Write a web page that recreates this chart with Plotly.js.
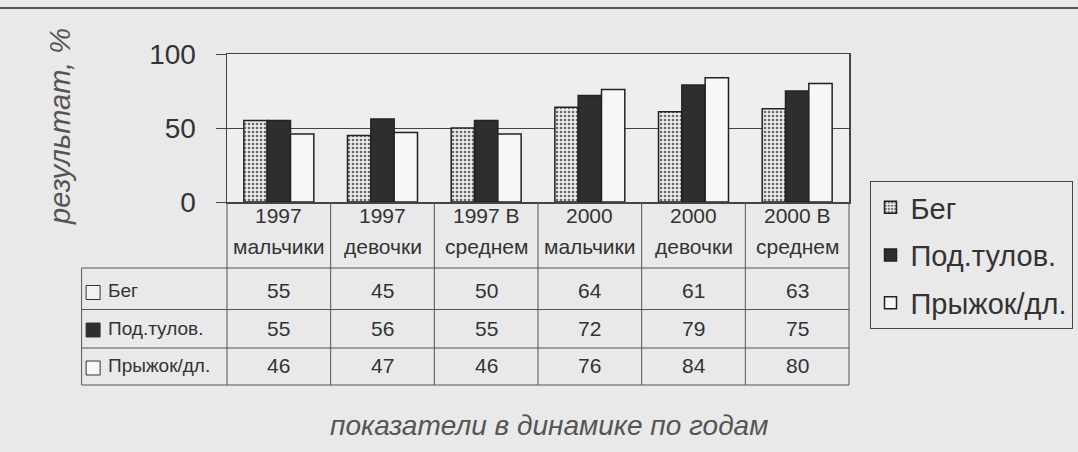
<!DOCTYPE html>
<html>
<head>
<meta charset="utf-8">
<script src="https://cdn.plot.ly/plotly-3.0.1.min.js"></script>
<style>html,body{margin:0;padding:0;background:#e9e9e9;}#chart{width:1078px;height:452px;}</style>
</head>
<body>
<div id="chart"></div>
<script>
// ---- data ----
const catLine1 = ['1997', '1997', '1997 В', '2000', '2000', '2000 В'];
const catLine2 = ['мальчики', 'девочки', 'среднем', 'мальчики', 'девочки', 'среднем'];
const categories = catLine1.map((a, i) => a + ' ' + catLine2[i]);
const seriesNames = ['Бег', 'Под.тулов.', 'Прыжок/дл.'];
const runVals = [55, 45, 50, 64, 61, 63];
const pullVals = [55, 56, 55, 72, 79, 75];
const jumpVals = [46, 47, 46, 76, 84, 80];
const yTicks = [0, 50, 100];
const yTitle = 'результат, %';
const xTitle = 'показатели в динамике по годам';

const seriesVals = [runVals, pullVals, jumpVals];
const FONT = 'Liberation Sans, Arial, sans-serif';
const TXT = '#333';

// ---- traces ----
const traces = [
  {type: 'bar', name: seriesNames[0], x: categories, y: runVals, legendgroup: 'g1',
   marker: {color: '#ececec', line: {color: '#222', width: 1.5},
            pattern: {shape: '.', fgcolor: '#6a6a6a', bgcolor: '#ececec', size: 4, solidity: 0.35}}},
  {type: 'bar', name: seriesNames[1], x: categories, y: pullVals, legendgroup: 'g2',
   marker: {color: '#2e2e2e', line: {color: '#222', width: 1.5}}},
  {type: 'bar', name: seriesNames[2], x: categories, y: jumpVals, legendgroup: 'g3',
   marker: {color: '#f7f7f7', line: {color: '#222', width: 1.5}}}
];

// ---- table geometry (paper coords) ----
const L = 227, R = 849, T = 54, B = 202;
const W = R - L, H = B - T;
const px = p => (p - L) / W;
const py = p => (B - p) / H;
const rowLines = [268, 309.5, 348, 385].map(py);
const labelLeft = px(81.6);
const headerY = [py(215), py(246)];
const rowY = [py(290.5), py(328), py(366)];

const shapes = [];
const lineStyle = {color: '#555', width: 1};
rowLines.forEach(y => {
  shapes.push({type: 'line', xref: 'paper', yref: 'paper',
    x0: labelLeft, x1: 1, y0: y, y1: y, line: lineStyle});
});
for (let i = 0; i <= categories.length; i++) {
  const x = i / categories.length;
  shapes.push({type: 'line', xref: 'paper', yref: 'paper', x0: x, x1: x,
    y0: 0, y1: rowLines[rowLines.length - 1], line: lineStyle});
}
shapes.push({type: 'line', xref: 'paper', yref: 'paper', x0: labelLeft, x1: labelLeft,
  y0: rowLines[0], y1: rowLines[rowLines.length - 1], line: lineStyle});
const iconFill = ['#f2f2f2', '#2e2e2e', '#f7f7f7'];
rowY.forEach((y, k) => {
  shapes.push({type: 'rect', xref: 'paper', yref: 'paper', xsizemode: 'pixel', ysizemode: 'pixel',
    xanchor: labelLeft, yanchor: y, x0: 4.5, x1: 18.5, y0: -9, y1: 5,
    fillcolor: iconFill[k], line: {color: '#333', width: 1}});
});
shapes.push({type: 'line', xref: 'paper', yref: 'paper', x0: px(0), x1: px(1078),
  y0: py(8), y1: py(8), line: {color: '#555', width: 2}});

// ---- annotations ----
const annotations = [];
categories.forEach((c, i) => {
  annotations.push({xref: 'x', yref: 'paper', x: c, y: headerY[0], text: catLine1[i],
    showarrow: false, font: {family: FONT, size: 21, color: TXT}, yanchor: 'middle'});
  annotations.push({xref: 'x', yref: 'paper', x: c, y: headerY[1], text: catLine2[i],
    showarrow: false, font: {family: FONT, size: 21, color: TXT}, yanchor: 'middle'});
  seriesVals.forEach((vals, k) => {
    annotations.push({xref: 'x', yref: 'paper', x: c, y: rowY[k], text: String(vals[i]),
      showarrow: false, font: {family: FONT, size: 21, color: TXT}, yanchor: 'middle'});
  });
});
seriesNames.forEach((n, k) => {
  annotations.push({xref: 'paper', yref: 'paper', x: px(106), y: rowY[k], text: n,
    xanchor: 'left', yanchor: 'middle', showarrow: false,
    font: {family: FONT, size: 19, color: TXT}});
});
annotations.push({xref: 'paper', yref: 'paper', x: px(60), y: py(127), text: '<i>' + yTitle + '</i>',
  textangle: -90, showarrow: false, xanchor: 'center', yanchor: 'middle',
  font: {family: FONT, size: 29, color: '#555'}});
annotations.push({xref: 'paper', yref: 'paper', x: px(548.5), y: py(425), text: '<i>' + xTitle + '</i>',
  showarrow: false, xanchor: 'center', yanchor: 'middle',
  font: {family: FONT, size: 28, color: '#555'}});

const layout = {
  width: 1078, height: 452,
  margin: {l: L, r: 1078 - R, t: T, b: 452 - B, autoexpand: false},
  paper_bgcolor: '#e9e9e9', plot_bgcolor: '#eeeeee',
  barmode: 'group', bargap: 0.325, bargroupgap: 0,
  showlegend: true,
  legend: {x: px(869.5), y: py(181), xanchor: 'left', yanchor: 'top',
    bgcolor: '#e9e9e9', bordercolor: '#444', borderwidth: 1,
    traceorder: 'grouped', tracegroupgap: 7,
    font: {family: FONT, size: 29, color: TXT}},
  xaxis: {type: 'category', showticklabels: false, ticks: '', showgrid: false,
    showline: true, linecolor: '#444', linewidth: 1.5, mirror: true, fixedrange: true},
  yaxis: {range: [0, 100], tickvals: yTicks, ticktext: yTicks.map(String),
    ticks: 'outside', ticklen: 10, tickcolor: '#444', ticklabelstandoff: 14,
    showgrid: true, gridcolor: '#444', gridwidth: 1, zeroline: false,
    showline: true, linecolor: '#444', linewidth: 1.5, mirror: true,
    tickfont: {family: FONT, size: 28, color: TXT}, fixedrange: true},
  shapes: shapes,
  annotations: annotations
};

Plotly.newPlot('chart', traces, layout, {displayModeBar: false, staticPlot: true});
</script>
</body>
</html>
